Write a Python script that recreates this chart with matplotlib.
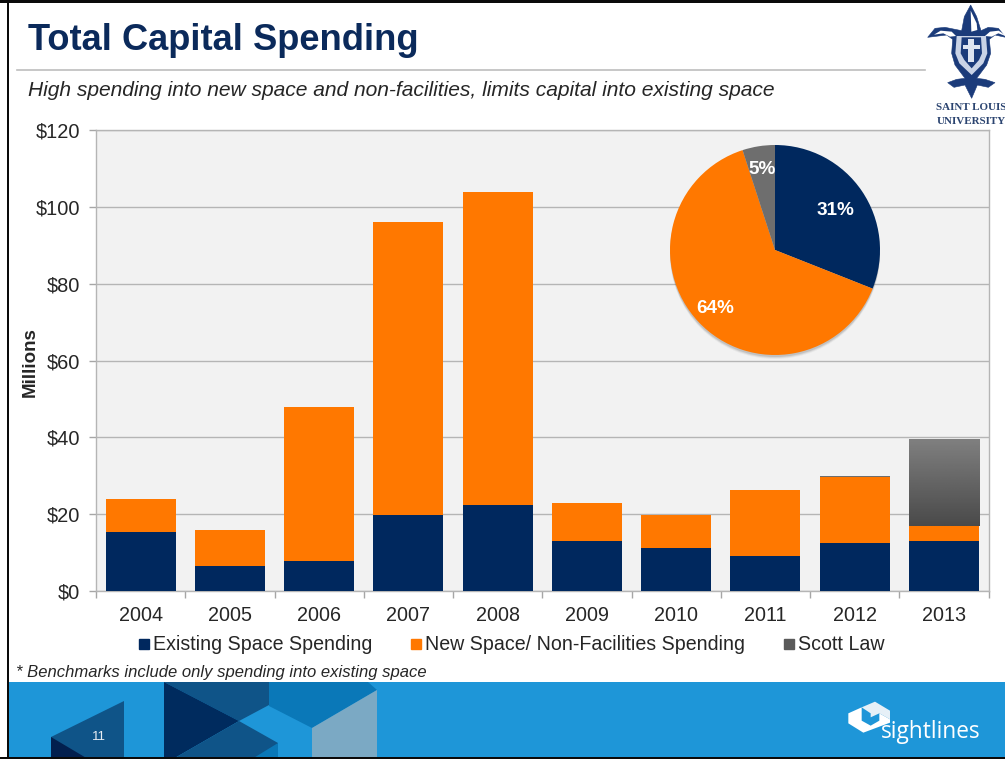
import numpy as np
import matplotlib
matplotlib.use("Agg")
import matplotlib.pyplot as plt
from matplotlib.patches import Polygon, Rectangle, Circle
from matplotlib.lines import Line2D

years = ["2004", "2005", "2006", "2007", "2008", "2009", "2010", "2011", "2012", "2013"]
existing = [15.4, 6.5, 7.8, 19.8, 22.5, 13.0, 11.2, 9.1, 12.5, 13.0]
new_space = [8.6, 9.5, 40.2, 76.2, 81.4, 10.0, 8.6, 17.2, 17.2, 4.0]
scott_law = [0, 0, 0, 0, 0, 0, 0, 0, 0.3, 22.5]
pie_labels = ["31%", "64%", "5%"]
pie_values = [31, 64, 5]
y_ticks = [0, 20, 40, 60, 80, 100, 120]
series_names = ["Existing Space Spending", "New Space/ Non-Facilities Spending", "Scott Law"]

NAVY, ORANGE, GRAY = "#00285E", "#FF7800", "#6E6E6E"
W, H = 1005, 759
plt.rcParams["font.family"] = ["Liberation Sans", "DejaVu Sans"]
TC = "#262626"

fig = plt.figure(figsize=(W / 100, H / 100), dpi=100, facecolor="white")


def box(x0, y0, x1, y1):
    return [x0 / W, 1 - y1 / H, (x1 - x0) / W, (y1 - y0) / H]


# Page-level overlay in pixel coordinates
bg = fig.add_axes([0, 0, 1, 1], zorder=0)
bg.set_xlim(0, W)
bg.set_ylim(H, 0)
bg.axis("off")

bg.add_patch(Rectangle((8, 682), W, 77, fc="#1E96D8", ec="none"))
for pts, c in [
    ([(51, 737), (124, 701), (124, 759), (51, 759)], "#0F5488"),
    ([(51, 737), (88, 759), (51, 759)], "#021F4E"),
    ([(164, 682), (269, 682), (269, 705), (239, 721)], "#0F5488"),
    ([(164, 682), (239, 721), (173, 759), (164, 759)], "#002B5E"),
    ([(239, 721), (278, 743), (278, 759), (173, 759)], "#0F5488"),
    ([(278, 743), (278, 759), (252, 759)], "#0A78B8"),
    ([(269, 682), (368, 682), (377, 690), (312, 728), (269, 706)], "#0A78B8"),
    ([(377, 690), (377, 759), (312, 759), (312, 728)], "#7BA9C4"),
]:
    bg.add_patch(Polygon(pts, fc=c, ec="none"))
bg.text(99, 737, "11", color="#E8EEF4", fontsize=9.5, ha="center", va="center")

# black slide border
bg.add_patch(Rectangle((0, 0), W, 3, fc="#0A0A0A", ec="none", zorder=5))
bg.add_patch(Rectangle((7, 0), 2, H, fc="#0A0A0A", ec="none", zorder=5))
bg.add_patch(Rectangle((0, 757), W, 2, fc="#0A0A0A", ec="none", zorder=5))

# title block
bg.text(28, 41, "Total Capital Spending", color="#0B2A5B", fontsize=26.1, fontweight="bold",
        ha="left", va="center")
bg.plot([17, 925], [70, 70], color="#BDBDBD", lw=1.2)
bg.text(28, 91, "High spending into new space and non-facilities, limits capital into existing space",
        color=TC, fontsize=15.15, style="italic", ha="left", va="center")
bg.text(16, 673, "* Benchmarks include only spending into existing space",
        color=TC, fontsize=11.98, style="italic", ha="left", va="center")


def crest_pts(pts):
    return [(780 + a / 3, b / 3) for a, b in pts]


# university crest (approximation)
CREST = "#1B3B7A"
bg.add_patch(Polygon(crest_pts([
    (572, 15), (590, 50), (603, 92), (625, 82), (655, 85), (677, 112), (645, 105), (628, 118),
    (632, 160), (620, 195), (590, 235), (615, 238), (645, 248), (625, 262), (592, 255), (575, 295),
    (555, 255), (522, 262), (503, 248), (530, 238), (555, 235), (525, 195), (515, 160), (518, 118),
    (500, 105), (443, 112), (465, 85), (495, 82), (545, 92), (553, 50)]),
    fc=CREST, ec=CREST, lw=0.4, zorder=1))
for pts, c in [
    ([(572, 32), (590, 70), (592, 90), (574, 95)], "white"),
    ([(462, 104), (482, 92), (515, 95), (528, 108), (510, 110), (490, 100)], "white"),
    ([(682 - 0, 110), (656, 92), (630, 95), (615, 108), (635, 110), (655, 100)], "white"),
    ([(530, 108), (618, 108), (622, 160), (610, 190), (575, 225), (538, 190), (526, 160)], "#C9D3E6"),
    ([(545, 112), (603, 112), (606, 160), (597, 180), (575, 205), (553, 180), (542, 160)], CREST),
    ([(565, 118), (582, 118), (582, 185), (565, 185)], "#DDE4F0"),
    ([(548, 135), (600, 135), (600, 148), (548, 148)], "#DDE4F0"),
]:
    bg.add_patch(Polygon(crest_pts(pts), fc=c, ec="none", zorder=1))
bg.text(936, 108, "SAINT LOUIS", family=["Liberation Serif"], fontweight="bold", color="#2B4470",
        fontsize=7.9, ha="left", va="center")
bg.text(937, 122, "UNIVERSITY", family=["Liberation Serif"], fontweight="bold", color="#2B4470",
        fontsize=7.9, ha="left", va="center")


def logo_pts(pts):
    return [(780 + a / 3, 680 + b / 3) for a, b in pts]


# sightlines mark (approximation)
bg.add_patch(Polygon(logo_pts([(245, 82), (285, 65), (330, 92), (330, 118), (298, 100), (272, 112), (272, 100)]),
                     fc="#E6F0F7", ec="none"))
bg.add_patch(Polygon(logo_pts([(205, 100), (245, 82), (245, 122), (272, 137), (298, 122), (298, 100), (330, 118),
                               (330, 128), (250, 158), (205, 130)]), fc="white", ec="none"))
bg.text(881, 732, "sightlines", family=["Open Sans"], color="white", fontsize=16.3,
        ha="left", va="center")

# Bar chart
ax = fig.add_axes(box(96, 130, 988.5, 591), zorder=2)
ax.set_facecolor("#F2F2F2")
x = np.arange(len(years))
ex, nw, sc = np.array(existing), np.array(new_space), np.array(scott_law)
BW = 0.785
ax.bar(x, ex, BW, color=NAVY, zorder=3, label=series_names[0])
ax.bar(x, nw, BW, bottom=ex, color=ORANGE, zorder=3, label=series_names[1])
bars = ax.bar(x, sc, BW, bottom=ex + nw, color=GRAY, zorder=3, label=series_names[2])

# vertical gradient over the Scott Law bars
grad = np.linspace(0.50, 0.29, 128).reshape(-1, 1)
for b in bars:
    if b.get_height() > 1:
        ax.imshow(grad, cmap="gray", vmin=0, vmax=1, aspect="auto", zorder=3.5,
                  extent=(b.get_x(), b.get_x() + b.get_width(), b.get_y(), b.get_y() + b.get_height()))

ax.set_xlim(-0.5, len(years) - 0.5)
ax.set_ylim(y_ticks[0], y_ticks[-1])
ax.set_yticks(y_ticks)
ax.set_yticklabels([f"${v}" for v in y_ticks], fontsize=14.4, color=TC)
ax.set_xticks(x)
ax.set_xticklabels(years, fontsize=14.2, color=TC)
ax.set_xticks(np.arange(-0.5, len(years)), minor=True)
ax.tick_params(axis="x", which="major", length=0, pad=11)
ax.tick_params(axis="x", which="minor", length=5, color="#A6A6A6", width=1)
ax.tick_params(axis="y", length=5, color="#A6A6A6", width=1, pad=6.5)
ax.yaxis.grid(True, color="#B5B5B5", lw=1, zorder=1)
ax.set_axisbelow(True)
for s in ax.spines.values():
    s.set_color("#B5B5B5")
    s.set_linewidth(1)
fig.text(30 / W, 1 - 362 / H, "Millions", rotation=90, fontsize=13.5, fontweight="bold",
         color=TC, ha="center", va="center", zorder=3)

handles = [
    Line2D([], [], ls="none", marker="s", ms=7.5, color=NAVY),
    Line2D([], [], ls="none", marker="s", ms=7.5, color=ORANGE),
    Line2D([], [], ls="none", marker="s", ms=7.5, color="#5A5A5A"),
]
fig.legend(handles, series_names, loc="center", bbox_to_anchor=(510 / W, 1 - 645 / H), ncol=3,
           frameon=False, fontsize=14.1, labelcolor=TC, handlelength=0.85, handletextpad=0.0,
           columnspacing=1.85, borderpad=0, borderaxespad=0)

# Pie inset
R = 105
cx, cy = 775, 250
pa = fig.add_axes(box(cx - R - 3, cy - R - 3, cx + R + 3, cy + R + 5), zorder=4)
pa.set_facecolor("none")
pa.axis("off")
for off, al in [(4, 0.06), (3, 0.10), (2, 0.14)]:
    pa.add_patch(Circle((0, -off / R), 1.0, fc="#444444", ec="none", alpha=al))
wedges, _ = pa.pie(pie_values, colors=[NAVY, ORANGE, GRAY], startangle=90, counterclock=False,
                   radius=1.0, center=(0, 0))
pa.set_xlim(-(R + 3) / R, (R + 3) / R)
pa.set_ylim(-(R + 5) / R, (R + 3) / R)
pa.set_aspect("equal")
for w, lab, rf in zip(wedges, pie_labels, [0.70, 0.78, 0.80]):
    a = np.deg2rad((w.theta1 + w.theta2) / 2)
    pa.text(rf * np.cos(a), rf * np.sin(a) - 0.02, lab, color="white", fontsize=13.6, fontweight="bold",
            ha="center", va="center")

fig.savefig("out.png", dpi=100, facecolor="white")
